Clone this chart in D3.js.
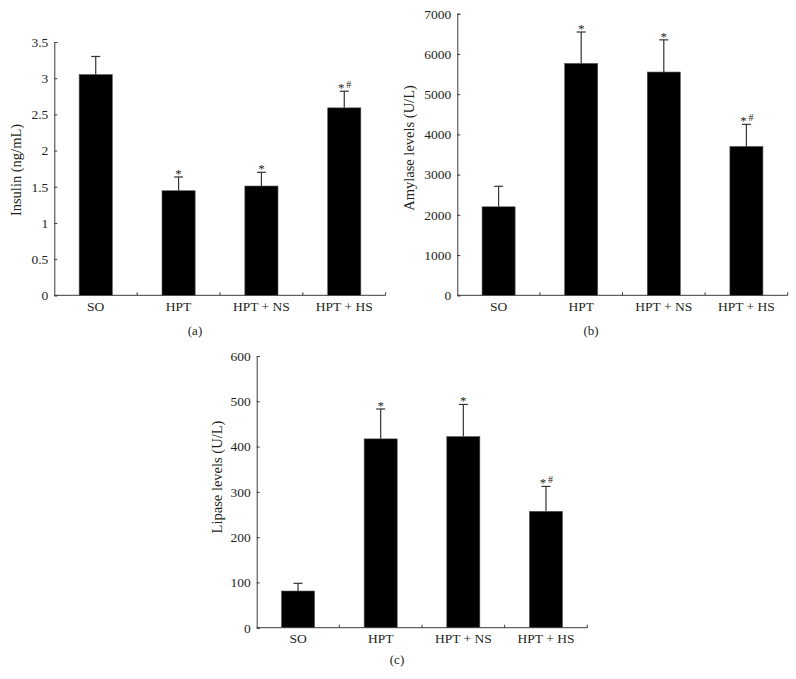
<!DOCTYPE html>
<html>
<head>
<meta charset="utf-8">
<script src="https://cdn.jsdelivr.net/npm/d3@7"></script>
<style>
  body { margin: 0; background: #fff; }
  svg { display: block; }
  text { font-family: "Liberation Serif", "Times New Roman", Times, serif; fill: #231f20; }
</style>
</head>
<body>
<svg id="chart" width="796" height="679"></svg>
<script>
// ---------------- DATA ----------------
const categories = ["SO", "HPT", "HPT + NS", "HPT + HS"];

const insulinValues = [3.05, 1.445, 1.51, 2.59];
const insulinErrors = [0.25, 0.19, 0.19, 0.23];
const insulinTicks = [0, 0.5, 1, 1.5, 2, 2.5, 3, 3.5];

const amylaseValues = [2200, 5765, 5550, 3700];
const amylaseErrors = [510, 780, 800, 550];
const amylaseTicks = [0, 1000, 2000, 3000, 4000, 5000, 6000, 7000];

const lipaseValues = [81, 417, 422, 257];
const lipaseErrors = [17, 66, 71, 55];
const lipaseTicks = [0, 100, 200, 300, 400, 500, 600];

const significance = ["", "*", "*", "*#"];

const yTitles = ["Insulin (ng/mL)", "Amylase levels (U/L)", "Lipase levels (U/L)"];
const panelLabels = ["(a)", "(b)", "(c)"];

// ---------------- LAYOUT ----------------
const panels = [
  { values: insulinValues, errors: insulinErrors, ticks: insulinTicks, title: yTitles[0], label: panelLabels[0],
    left: 54.3, right: 385.7, top: 42, bottom: 295.3, titleX: 16, titleY: 170, labelX: 195, labelY: 335 },
  { values: amylaseValues, errors: amylaseErrors, ticks: amylaseTicks, title: yTitles[1], label: panelLabels[1],
    left: 457.3, right: 787.7, top: 13.7, bottom: 295.3, titleX: 409, titleY: 148, labelX: 591, labelY: 335 },
  { values: lipaseValues, errors: lipaseErrors, ticks: lipaseTicks, title: yTitles[2], label: panelLabels[2],
    left: 256.7, right: 587.3, top: 356, bottom: 627.7, titleX: 216.7, titleY: 477, labelX: 397, labelY: 664 }
];

const svg = d3.select("#chart");
const axisColor = "#3a3a3a";
const fontFam = '"Liberation Serif", "Times New Roman", Times, serif';

panels.forEach(p => {
  const g = svg.append("g");
  const x = d3.scaleBand().domain(categories).range([p.left, p.right])
    .paddingInner(0.6).paddingOuter(0.3);
  const yMax = p.ticks[p.ticks.length - 1];
  const y = d3.scaleLinear().domain([0, yMax]).range([p.bottom, p.top]);

  // Y axis (ticks pointing inward)
  const yAxis = g.append("g")
    .attr("transform", `translate(${p.left},0)`)
    .call(d3.axisLeft(y).tickValues(p.ticks).tickSize(-3).tickPadding(6).tickFormat(d3.format("")));
  yAxis.select(".domain").attr("stroke", axisColor);
  yAxis.selectAll(".tick line").attr("stroke", axisColor);
  yAxis.selectAll("text").style("font-size", "13.5px").attr("fill", "#231f20")
    .style("font-family", fontFam);

  // X axis: labels centered on bands
  const xAxis = g.append("g")
    .attr("transform", `translate(0,${p.bottom})`)
    .call(d3.axisBottom(x).tickSize(0).tickPadding(6));
  xAxis.select(".domain").remove();
  xAxis.selectAll("text").style("font-size", "13.5px").attr("fill", "#231f20")
    .style("font-family", fontFam);

  // baseline
  g.append("line")
    .attr("x1", p.left).attr("x2", p.right)
    .attr("y1", p.bottom).attr("y2", p.bottom)
    .attr("stroke", axisColor).attr("stroke-width", 1);

  // category boundary ticks (pointing up)
  const step = x.step();
  const bounds = d3.range(1, categories.length + 1).map(i => p.left + i * step);
  g.selectAll(".bt").data(bounds).join("line")
    .attr("x1", d => d).attr("x2", d => d)
    .attr("y1", p.bottom).attr("y2", p.bottom - 3)
    .attr("stroke", axisColor);

  // bars
  g.selectAll(".bar").data(categories).join("rect")
    .attr("x", d => x(d))
    .attr("y", (d, i) => y(p.values[i]))
    .attr("width", x.bandwidth())
    .attr("height", (d, i) => p.bottom - y(p.values[i]))
    .attr("fill", "#000")
    .attr("stroke", "#555").attr("stroke-width", 0.6);

  // error bars (upward only)
  const cap = 4.5;
  categories.forEach((c, i) => {
    const cx = x(c) + x.bandwidth() / 2;
    const yTop = y(p.values[i] + p.errors[i]);
    g.append("line").attr("x1", cx).attr("x2", cx)
      .attr("y1", y(p.values[i])).attr("y2", yTop)
      .attr("stroke", "#333").attr("stroke-width", 1.2);
    g.append("line").attr("x1", cx - cap).attr("x2", cx + cap)
      .attr("y1", yTop).attr("y2", yTop)
      .attr("stroke", "#333").attr("stroke-width", 1.2);

    const sig = significance[i];
    if (sig === "*") {
      g.append("text").attr("x", cx).attr("y", yTop + 1)
        .attr("text-anchor", "middle").style("font-size", "13px").text("*");
    } else if (sig === "*#") {
      g.append("text").attr("x", cx - 3).attr("y", yTop + 1)
        .attr("text-anchor", "middle").style("font-size", "13px").text("*");
      g.append("text").attr("x", cx + 4.5).attr("y", yTop - 3)
        .attr("text-anchor", "middle").style("font-size", "10px").text("#");
    }
  });

  // y title
  g.append("text")
    .attr("transform", `translate(${p.titleX},${p.titleY}) rotate(-90)`)
    .attr("text-anchor", "middle").attr("dy", "0.35em")
    .style("font-size", "14.5px").text(p.title);

  // panel label
  g.append("text").attr("x", p.labelX).attr("y", p.labelY)
    .attr("text-anchor", "middle").style("font-size", "13px").text(p.label);
});
</script>
</body>
</html>
